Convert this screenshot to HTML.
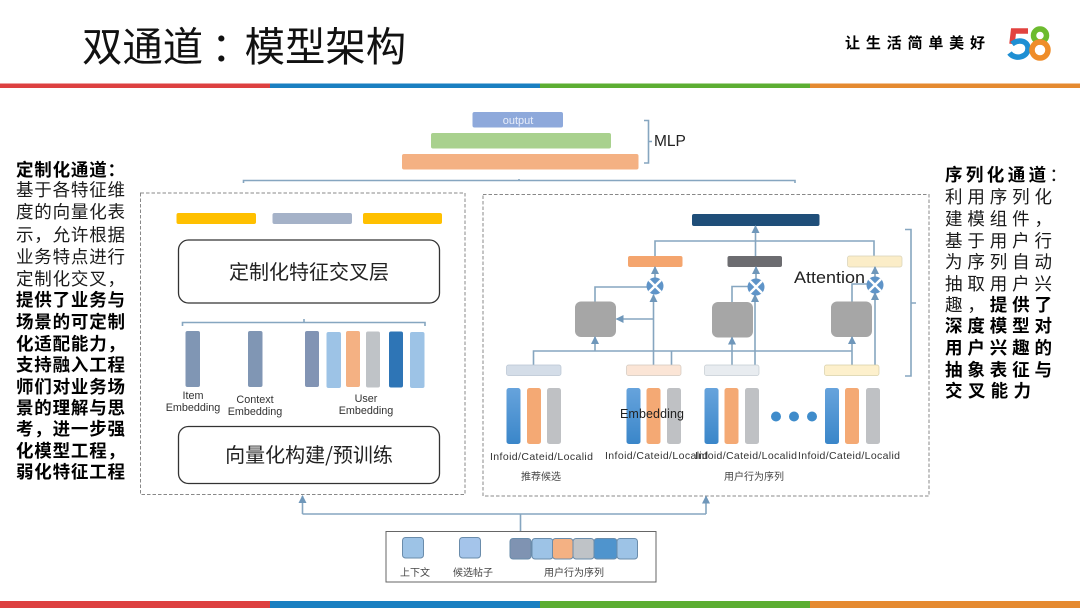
<!DOCTYPE html>
<html lang="zh">
<head>
<meta charset="utf-8">
<title>双通道：模型架构</title>
<style>
html,body{margin:0;padding:0;background:#fff;width:1080px;height:608px;overflow:hidden}
svg{display:block;filter:blur(.3px)}
text{font-family:"Liberation Sans","Noto Sans CJK SC",sans-serif;fill:#222}
.cj{font-family:"Noto Sans CJK SC",sans-serif}
.l{stroke:#86a6c0;stroke-width:1.6;fill:none}
.lt{font-size:17.5px;font-family:"Noto Sans CJK SC",sans-serif;fill:#1a1a1a}
.b{font-weight:700;fill:#000}
.sm{font-size:10.8px;text-anchor:middle;fill:#333}
.inf{font-size:10.5px;fill:#333}
.cap{font-size:10px;text-anchor:middle;fill:#444;font-family:"Noto Sans CJK SC",sans-serif}
.box{fill:#fff;stroke:#333;stroke-width:1.3}
.dash{fill:none;stroke:#888;stroke-width:1;stroke-dasharray:3.5 2}
</style>
</head>
<body>
<svg width="1080" height="608" viewBox="0 0 1080 608" xmlns="http://www.w3.org/2000/svg">
<defs>
<marker id="a" markerUnits="userSpaceOnUse" markerWidth="8" markerHeight="8" refX="7" refY="4" orient="auto"><path d="M0 0L8 4L0 8Z" fill="#6f97ba"/></marker>
<linearGradient id="bl" x1="0" y1="0" x2="0" y2="1"><stop offset="0" stop-color="#66a3dc"/><stop offset="1" stop-color="#3a86c9"/></linearGradient>
</defs>

<!-- header -->
<text x="82" y="61" class="cj" style="font-size:40.4px;font-weight:400;fill:#111">双通道<tspan dx="8">：</tspan><tspan dx="-7">模型架构</tspan></text>
<text x="845" y="48" class="cj b" style="font-size:15px" textLength="140">让生活简单美好</text>
<!-- logo -->
<g fill="none" stroke-width="5.500">
<path d="M1028 31H1013.500L1012 44" stroke="#e2423f"/>
<path d="M1012 44C1019 38.500 1028 41 1028 48.500C1028 57 1015 60.500 1009.500 53" stroke="#1f8fd3"/>
<circle cx="1040" cy="35.500" r="6.500" stroke="#6dbb2f"/>
<circle cx="1040" cy="50" r="8" stroke="#ef8d2a"/>
</g>

<!-- stripes -->
<rect x="0" y="83.5" width="270" height="4.5" fill="#dd4040"/>
<rect x="270" y="83.5" width="270" height="4.5" fill="#1a7fc1"/>
<rect x="540" y="83.5" width="270" height="4.5" fill="#5cae32"/>
<rect x="810" y="83.5" width="270" height="4.5" fill="#e58a30"/>
<rect x="0" y="601" width="270" height="7" fill="#dd4040"/>
<rect x="270" y="601" width="270" height="7" fill="#1a7fc1"/>
<rect x="540" y="601" width="270" height="7" fill="#5cae32"/>
<rect x="810" y="601" width="270" height="7" fill="#e58a30"/>

<!-- MLP -->
<rect x="472.5" y="112" width="90.500" height="15.500" rx="2" fill="#8ea9db"/>
<text x="518" y="124" style="font-size:11px;fill:#e8eefa" text-anchor="middle">output</text>
<rect x="431" y="133" width="180" height="15.500" rx="2" fill="#a9d18e"/>
<rect x="402" y="154" width="236.500" height="15.500" rx="2" fill="#f4b183"/>
<path class="l" d="M644 120.500H648.500V163H644M648.500 141.500H652"/>
<text x="654" y="146" style="font-size:15.500px">MLP</text>
<path class="l" d="M243.500 183V180.500H795V183M519 180.500V179"/>

<!-- dashed boxes -->
<rect class="dash" x="140.500" y="193" width="324.500" height="301.500"/>
<rect class="dash" x="483" y="194.500" width="446" height="301.500"/>

<!-- left panel -->
<rect x="176.500" y="213" width="79.500" height="11" rx="2" fill="#ffc000"/>
<rect x="272.500" y="213" width="79.500" height="11" rx="2" fill="#a5b2c8"/>
<rect x="363" y="213" width="79" height="11" rx="2" fill="#ffc000"/>
<rect class="box" x="178.500" y="240" width="261" height="63" rx="10"/>
<text x="309" y="279" class="cj" style="font-size:20px" text-anchor="middle">定制化特征交叉层</text>
<path class="l" d="M182.500 326V322.500H425V326M304 322.500V319"/>
<g>
<rect x="185.500" y="331" width="14.500" height="56" rx="2" fill="#8096b4"/>
<rect x="248" y="331" width="14.500" height="56" rx="2" fill="#8096b4"/>
<rect x="305" y="331" width="14" height="56" rx="2" fill="#8294b4"/>
<rect x="326.500" y="332" width="14.500" height="56" rx="2" fill="#9dc3e6"/>
<rect x="346" y="331" width="14" height="56" rx="2" fill="#f4b183"/>
<rect x="366" y="331.500" width="14" height="56" rx="2" fill="#bfc3c7"/>
<rect x="389" y="331.500" width="14" height="56" rx="2" fill="#2e75b6"/>
<rect x="410" y="332" width="14.500" height="56" rx="2" fill="#9dc3e6"/>
</g>
<text x="193" y="399" class="sm">Item</text>
<text x="193" y="411" class="sm">Embedding</text>
<text x="255" y="403" class="sm">Context</text>
<text x="255" y="415" class="sm">Embedding</text>
<text x="366" y="402" class="sm">User</text>
<text x="366" y="414" class="sm">Embedding</text>
<rect class="box" x="178.500" y="426.500" width="261" height="57" rx="10"/>
<text x="309" y="462" class="cj" style="font-size:20px" text-anchor="middle">向量化构建/预训练</text>

<!-- right panel -->
<rect x="692" y="214" width="127.500" height="12" rx="2" fill="#1f4e79"/>
<path class="l" d="M655 256V241H874V256"/>
<path class="l" d="M755.500 256V226" marker-end="url(#a)"/>
<rect x="628" y="256" width="54.500" height="11" rx="2" fill="#f4a56e"/>
<rect x="727.500" y="256" width="54.500" height="11" rx="2" fill="#6c6c70"/>
<rect x="847.500" y="256" width="54.500" height="11" rx="2" fill="#fbedc8" stroke="#d8d2b8" stroke-width=".7"/>

<rect x="575" y="301.500" width="41" height="35.500" rx="6" fill="#a6a6a6"/>
<rect x="712" y="302" width="41" height="35.500" rx="6" fill="#a6a6a6"/>
<rect x="831" y="301.500" width="41" height="35.500" rx="6" fill="#a6a6a6"/>

<path class="l" d="M533.500 365V351H852"/>
<path class="l" d="M671.500 365V351"/>
<path class="l" d="M595 351V337" marker-end="url(#a)"/>
<path class="l" d="M732 365V337.500" marker-end="url(#a)"/>
<path class="l" d="M852 365V337" marker-end="url(#a)"/>
<path class="l" d="M653.500 365V295" marker-end="url(#a)"/>
<path class="l" d="M755 365V295" marker-end="url(#a)"/>
<path class="l" d="M875 365V293" marker-end="url(#a)"/>
<path class="l" d="M653.500 319H616.500" marker-end="url(#a)"/>
<path class="l" d="M595 301.500V287H648"/>
<path class="l" d="M732 302V286.500H749"/>
<path class="l" d="M852 301.500V284H868"/>
<path class="l" d="M655 278V267" marker-end="url(#a)"/>
<path class="l" d="M756 279V267" marker-end="url(#a)"/>
<path class="l" d="M875 277V267" marker-end="url(#a)"/>
<g stroke="#fff" stroke-width="2.400">
<circle cx="655" cy="286" r="8.500" fill="#5f94c8" stroke="none"/>
<path d="M649 280L661 292M661 280L649 292"/>
<circle cx="756" cy="287" r="8.500" fill="#5f94c8" stroke="none"/>
<path d="M750 281L762 293M762 281L750 293"/>
<circle cx="875" cy="285" r="8.500" fill="#5f94c8" stroke="none"/>
<path d="M869 279L881 291M881 279L869 291"/>
</g>
<path class="l" d="M905 229.500H911V376H905M911 303H916"/>
<text x="794" y="283" style="font-size:16.500px" textLength="71" lengthAdjust="spacingAndGlyphs">Attention</text>

<rect x="506.500" y="365" width="54.500" height="10.500" rx="2" fill="#d4dde8" stroke="#b8c4d2" stroke-width=".7"/>
<rect x="626.500" y="365" width="54.500" height="10.500" rx="2" fill="#fbe5d6" stroke="#d2c8be" stroke-width=".7"/>
<rect x="704.500" y="365" width="54.500" height="10.500" rx="2" fill="#e8ecf0" stroke="#c4ccd2" stroke-width=".7"/>
<rect x="824.500" y="365" width="54.500" height="10.500" rx="2" fill="#fdf0cc" stroke="#d8cfa8" stroke-width=".7"/>

<g>
<rect x="506.500" y="388" width="14" height="56" rx="2.500" fill="url(#bl)"/>
<rect x="527" y="388" width="14" height="56" rx="2.500" fill="#f4a974"/>
<rect x="547" y="388" width="14" height="56" rx="2.500" fill="#bfc1c4"/>
<rect x="626.500" y="388" width="14" height="56" rx="2.500" fill="url(#bl)"/>
<rect x="646.500" y="388" width="14" height="56" rx="2.500" fill="#f4a974"/>
<rect x="667" y="388" width="14" height="56" rx="2.500" fill="#bfc1c4"/>
<rect x="704.500" y="388" width="14" height="56" rx="2.500" fill="url(#bl)"/>
<rect x="724.500" y="388" width="14" height="56" rx="2.500" fill="#f4a974"/>
<rect x="745" y="388" width="14" height="56" rx="2.500" fill="#bfc1c4"/>
<rect x="825" y="388" width="14" height="56" rx="2.500" fill="url(#bl)"/>
<rect x="845" y="388" width="14" height="56" rx="2.500" fill="#f4a974"/>
<rect x="866" y="388" width="14" height="56" rx="2.500" fill="#bfc1c4"/>
</g>
<circle cx="776" cy="416.500" r="5" fill="#3f8ccb"/>
<circle cx="794" cy="416.500" r="5" fill="#3f8ccb"/>
<circle cx="812" cy="416.500" r="5" fill="#3f8ccb"/>
<text x="620" y="418" style="font-size:12.500px" textLength="64">Embedding</text>

<text x="490" y="460" class="inf" textLength="103">Infoid/Cateid/Localid</text>
<text x="605" y="459" class="inf" textLength="103">Infoid/Cateid/Localid</text>
<text x="695" y="459" class="inf" textLength="102">Infoid/Cateid/Localid</text>
<text x="798" y="459" class="inf" textLength="102">Infoid/Cateid/Localid</text>
<text x="541" y="480" class="cap">推荐候选</text>
<text x="754" y="480" class="cap">用户行为序列</text>

<!-- bottom -->
<path class="l" d="M520.500 531V514M302.500 514H706"/>
<path class="l" d="M302.500 514V496" marker-end="url(#a)"/>
<path class="l" d="M706 514V496.500" marker-end="url(#a)"/>
<rect x="386" y="531.500" width="270" height="50.500" fill="#fff" stroke="#666" stroke-width="1"/>
<g stroke="#6a8cab" stroke-width="1">
<rect x="402.500" y="537.500" width="21" height="20.500" rx="3" fill="#9dc3e6"/>
<rect x="459.500" y="537.500" width="21" height="20.500" rx="3" fill="#a4c4ea"/>
<rect x="510" y="538.500" width="21" height="20.500" rx="3" fill="#7f93b2"/>
<rect x="532" y="538.500" width="21" height="20.500" rx="3" fill="#9dc3e6"/>
<rect x="552.500" y="538.500" width="20.500" height="20.500" rx="3" fill="#f4b183"/>
<rect x="573" y="538.500" width="21" height="20.500" rx="3" fill="#bfc3c7"/>
<rect x="594" y="538.500" width="23" height="20.500" rx="3" fill="#4f94cd"/>
<rect x="617" y="538.500" width="20.500" height="20.500" rx="3" fill="#9dc3e6"/>
</g>
<text x="415" y="576" class="cap">上下文</text>
<text x="473" y="576" class="cap">候选帖子</text>
<text x="574" y="576" class="cap">用户行为序列</text>

<!-- left text -->
<g class="lt">
<text x="16" y="176" class="lt b" textLength="109">定制化通道：</text>
<text x="16" y="196" class="lt" textLength="109">基于各特征维</text>
<text x="16" y="218" class="lt" textLength="109">度的向量化表</text>
<text x="16" y="241" class="lt" textLength="109">示，允许根据</text>
<text x="16" y="263" class="lt" textLength="109">业务特点进行</text>
<text x="16" y="285" class="lt" textLength="109">定制化交叉，</text>
<text x="16" y="306" class="lt b" textLength="109">提供了业务与</text>
<text x="16" y="328" class="lt b" textLength="109">场景的可定制</text>
<text x="16" y="350" class="lt b" textLength="109">化适配能力，</text>
<text x="16" y="371" class="lt b" textLength="109">支持融入工程</text>
<text x="16" y="393" class="lt b" textLength="109">师们对业务场</text>
<text x="16" y="414" class="lt b" textLength="109">景的理解与思</text>
<text x="16" y="435" class="lt b" textLength="109">考，进一步强</text>
<text x="16" y="457" class="lt b" textLength="109">化模型工程，</text>
<text x="16" y="478" class="lt b" textLength="109">弱化特征工程</text>
</g>

<!-- right text -->
<g>
<text x="945" y="181" class="lt" textLength="122"><tspan class="b">序列化通道</tspan>：</text>
<text x="945" y="203" class="lt" textLength="107">利用序列化</text>
<text x="945" y="225" class="lt" textLength="107">建模组件，</text>
<text x="945" y="247" class="lt" textLength="107">基于用户行</text>
<text x="945" y="268" class="lt" textLength="107">为序列自动</text>
<text x="945" y="290" class="lt" textLength="107">抽取用户兴</text>
<text x="945" y="311" class="lt" textLength="107">趣，<tspan class="b">提供了</tspan></text>
<text x="945" y="332" class="lt b" textLength="107">深度模型对</text>
<text x="945" y="354" class="lt b" textLength="107">用户兴趣的</text>
<text x="945" y="376" class="lt b" textLength="107">抽象表征与</text>
<text x="945" y="397" class="lt b" textLength="86">交叉能力</text>
</g>
</svg>
</body>
</html>
